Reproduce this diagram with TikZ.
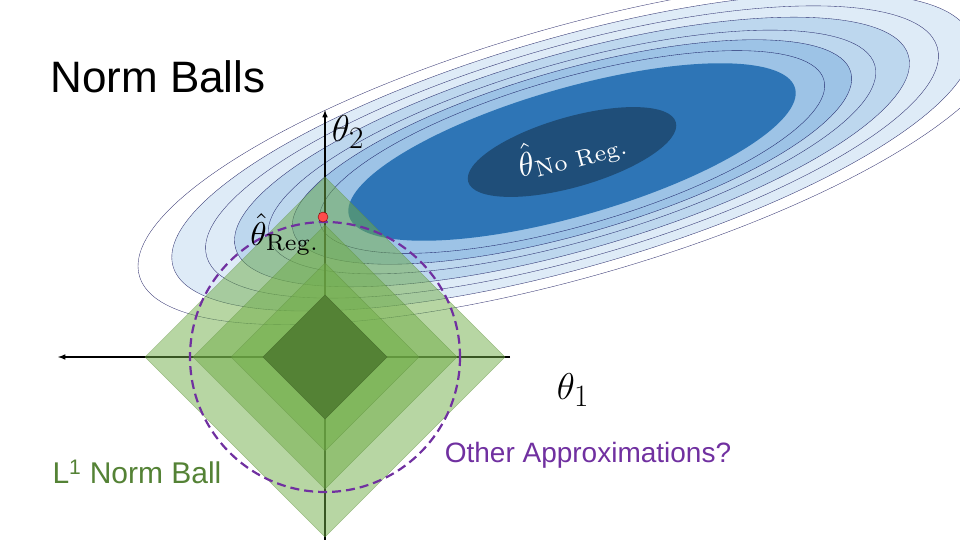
\documentclass[tikz,border=0pt]{standalone}
\usepackage[no-math]{fontspec}
\setmainfont{Liberation Sans}
\begin{document}
\begin{tikzpicture}[x=1pt,y=-1pt,
  lvl/.style={draw=black!70!blue,line width=0.4pt},
  dia/.style={fill=gdia,fill opacity=0.5,draw=gdia!80!black,draw opacity=0.4,line width=0.5pt}]
\definecolor{b1}{HTML}{DEEBF7}\definecolor{b2}{HTML}{BDD7EE}\definecolor{b3}{HTML}{9DC3E6}
\definecolor{b4}{HTML}{2E75B6}\definecolor{b5}{HTML}{1F4E79}
\definecolor{gdia}{HTML}{70AD47}\definecolor{gdark}{HTML}{548235}\definecolor{purp}{HTML}{7030A0}
\useasboundingbox (0,0) rectangle (960,540);
\coordinate (c) at (572,152);
\begin{scope}[shift={(c)},rotate=16]
 \fill[b1] (0,0) ellipse [x radius=415,y radius=115];
 \fill[b2] (0,0) ellipse [x radius=350,y radius=98];
 \fill[b3] (0,0) ellipse [x radius=290,y radius=82];
 \foreach \a/\b in {450/125,415/115,380/106,350/98,315/89,290/82,262/74}
   \draw[lvl,draw opacity=0.8,line width=0.35pt] (0,0) ellipse [x radius=\a,y radius=\b];
 \fill[b4] (0,0) ellipse [x radius=232,y radius=64];
 \fill[b5] (0,0) ellipse [x radius=108,y radius=35];
\end{scope}
\node[text=white,rotate=15] (nr) at (c) {\scalebox{3.3}{$\hat\theta_{\mathrm{No\ Reg.}}$}};
\coordinate (o) at (325,357);
\draw[-latex,line width=1.5pt] (o) -- (325,110) coordinate (t2);
\draw[-latex,line width=1.5pt] (510,357) -- (58,357) coordinate (t1);
\draw[line width=1.5pt] (o) -- (325,540);
\foreach \r in {180,132,94}
  \draw[dia] (325,357-\r) -- (325+\r,357) -- (325,357+\r) -- (325-\r,357) -- cycle;
\fill[gdark,draw=gdark!90!black] (325,295) -- (387,357) -- (325,419) -- (263,357) -- cycle;
\draw[purp,dashed,dash pattern=on 9pt off 5pt,line width=2.2pt] (o) circle (135);
\node[circle,fill=red!70!white,draw=red!50!black,inner sep=0pt,minimum size=10pt] (dot) at (323,217) {};
\node (l2) at (348,132) {\scalebox{1.5}{\Huge$\theta_2$}};
\node (l1) at (573,390) {\scalebox{1.5}{\Huge$\theta_1$}};
\node (reg) at (285,234) {\scalebox{3.3}{$\hat\theta_{\mathrm{Reg.}}$}};
\node[font=\fontsize{44}{48}\selectfont] (title) at (158,77) {Norm Balls};
\node[text=gdark,font=\fontsize{30}{34}\selectfont] (l1n) at (137,472) {L\textsuperscript{1} Norm Ball};
\node[text=purp,font=\fontsize{28}{32}\selectfont] (oa) at (588,455) {Other Approximations?};
\end{tikzpicture}
\end{document}
